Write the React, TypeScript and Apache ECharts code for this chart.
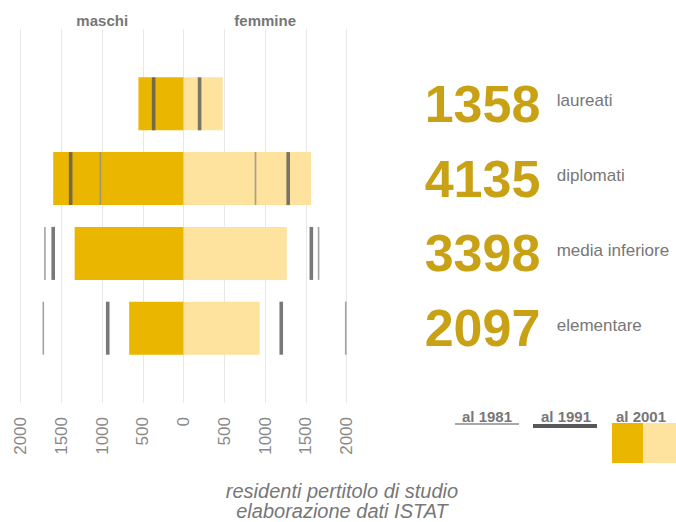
import React, { useEffect, useRef } from 'react';
import * as echarts from 'echarts';

const categories = ['laureati', 'diplomati', 'media inferiore', 'elementare'];
const totals = [1358, 4135, 3398, 2097];
const male2001 = [555, 1601, 1338, 669];
const female2001 = [479, 1562, 1265, 933];
const male1991 = [369, 1387, 1601, 932];
const female1991 = [195, 1282, 1566, 1197];
const male1981: (number | null)[] = [null, 1022, 1703, 1723];
const female1981: (number | null)[] = [null, 881, 1655, 1988];
const sexLabels = ['maschi', 'femmine'];
const legendYears = ['al 1981', 'al 1991', 'al 2001'];
const footerLines = ['residenti pertitolo di studio', 'elaborazione dati ISTAT'];

const MALE = '#EBB600';
const FEMALE = '#FEE39E';
const GOLD_TEXT = '#C8A214';
const DARK = '#585858';
const THIN = '#8c8c8c';
const FONT = "'Liberation Sans', Arial, Helvetica, sans-serif";

export default function App() {
  const ref = useRef<HTMLDivElement>(null);
  useEffect(() => {
    if (!ref.current) return;
    const chart = echarts.init(ref.current, null, { renderer: 'svg' });
    const axisData = ['', ...categories, ' '];
    const pad = (arr: (number | null)[], sign: number) => [null, ...arr.map((v) => (v == null ? null : sign * v)), null];
    const markers = (arr: (number | null)[], sign: number) =>
      arr.map((v, i) => (v == null ? null : [sign * v, i + 1])).filter((d) => d != null);

    const option: any = {
      animation: false,
      grid: { left: 20.7, right: 329.3, top: 29, bottom: 119, outerBoundsMode: 'none', containLabel: false },
      xAxis: [
        {
          type: 'value', min: -2000, max: 2000, interval: 500, position: 'bottom',
          axisLine: { show: false }, axisTick: { show: false },
          splitLine: { show: true, lineStyle: { color: '#e8e8e8', width: 1 } },
          axisLabel: {
            rotate: 90, margin: 14, color: '#888', fontSize: 17, fontFamily: FONT,
            formatter: (v: number) => String(Math.abs(v)),
          },
        },
        {
          type: 'value', min: -2000, max: 2000, interval: 1000, position: 'top',
          axisLine: { show: false }, axisTick: { show: false }, splitLine: { show: false },
          axisLabel: {
            margin: 1, color: '#777', fontSize: 15, fontWeight: 'bold', fontFamily: FONT,
            formatter: (v: number) => (v === -1000 ? sexLabels[0] : v === 1000 ? sexLabels[1] : ''),
          },
        },
      ],
      yAxis: {
        type: 'category', data: axisData, inverse: true, boundaryGap: false, position: 'right',
        axisLine: { show: false }, axisTick: { show: false }, splitLine: { show: false },
        axisLabel: {
          interval: 0, margin: 78, align: 'left',
          formatter: (_v: string, idx: number) =>
            idx >= 1 && idx <= categories.length
              ? `{num|${totals[idx - 1]}}{name|${categories[idx - 1]}}`
              : '',
          rich: {
            num: { fontSize: 52, fontWeight: 'bold', color: GOLD_TEXT, fontFamily: FONT, width: 132 },
            name: { fontSize: 17, color: '#777', fontFamily: FONT, padding: [0, 0, 6, 0] },
          },
        },
      },
      series: [
        { type: 'bar', name: 'maschi 2001', data: pad(male2001, -1), barWidth: 53, barGap: '-100%', itemStyle: { color: MALE }, z: 2 },
        { type: 'bar', name: 'femmine 2001', data: pad(female2001, 1), barWidth: 53, barGap: '-100%', itemStyle: { color: FEMALE }, z: 2 },
        {
          type: 'scatter', name: '1981', symbol: 'rect', symbolSize: [1.6, 53], z: 3,
          itemStyle: { color: THIN }, data: [...markers(male1981, -1), ...markers(female1981, 1)],
        },
        {
          type: 'scatter', name: '1991', symbol: 'rect', symbolSize: [3.6, 53], z: 4,
          itemStyle: { color: DARK }, data: [...markers(male1991, -1), ...markers(female1991, 1)],
        },
      ],
      graphic: [
        { type: 'text', x: 487, y: 416, style: { text: legendYears[0], font: `bold 15px ${FONT}`, fill: '#777', textAlign: 'center', textVerticalAlign: 'middle' } },
        { type: 'line', shape: { x1: 455, y1: 424, x2: 519, y2: 424 }, style: { stroke: '#a8a8a8', lineWidth: 2 } },
        { type: 'text', x: 566, y: 416, style: { text: legendYears[1], font: `bold 15px ${FONT}`, fill: '#777', textAlign: 'center', textVerticalAlign: 'middle' } },
        { type: 'line', shape: { x1: 533, y1: 426, x2: 597, y2: 426 }, style: { stroke: DARK, lineWidth: 4 } },
        { type: 'text', x: 641, y: 416, style: { text: legendYears[2], font: `bold 15px ${FONT}`, fill: '#777', textAlign: 'center', textVerticalAlign: 'middle' } },
        { type: 'rect', shape: { x: 612, y: 423, width: 31, height: 40 }, style: { fill: MALE } },
        { type: 'rect', shape: { x: 643, y: 423, width: 33, height: 40 }, style: { fill: FEMALE } },
        {
          type: 'text', x: 342, y: 501,
          style: { text: footerLines.join('\n'), font: `italic 20px ${FONT}`, fill: '#777', textAlign: 'center', textVerticalAlign: 'middle', lineHeight: 20 },
        },
      ],
    };
    chart.setOption(option);
    return () => chart.dispose();
  }, []);
  return <div ref={ref} style={{ position: 'absolute', left: 0, top: 0, width: 676, height: 522, background: '#fff' }} />;
}
